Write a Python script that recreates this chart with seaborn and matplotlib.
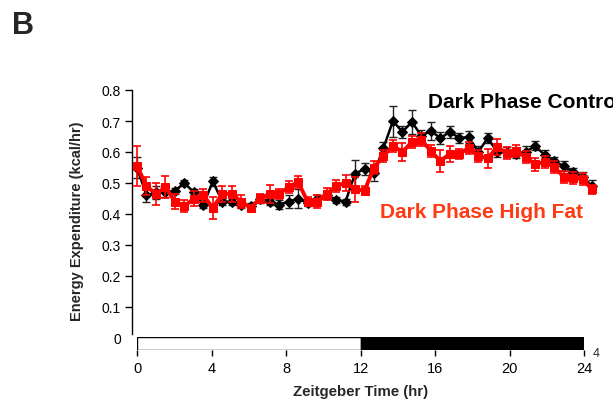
import matplotlib
matplotlib.use("Agg")
import matplotlib.pyplot as plt
import numpy as np
import pandas as pd
import seaborn as sns

# half-hour bins over one day
hours = np.arange(49) * 0.5

controlEE = [0.55, 0.46, 0.47, 0.47, 0.475, 0.50, 0.47, 0.43, 0.505, 0.44, 0.44, 0.43,
             0.425, 0.45, 0.44, 0.43, 0.44, 0.45, 0.435, 0.45, 0.46, 0.445, 0.44,
             0.53, 0.545, 0.532, 0.613, 0.70, 0.665, 0.697, 0.652, 0.668, 0.645, 0.665,
             0.645, 0.648, 0.60, 0.645, 0.60, 0.60, 0.595, 0.60, 0.62, 0.59, 0.57,
             0.555, 0.535, 0.52, 0.49]
controlSem = [0.035, 0.02, 0.02, 0.015, 0.01, 0.01, 0.01, 0.01, 0.015, 0.01, 0.01, 0.01,
              0.01, 0.015, 0.01, 0.015, 0.02, 0.03, 0.01, 0.01, 0.01, 0.01, 0.01,
              0.045, 0.02, 0.025, 0.02, 0.05, 0.02, 0.04, 0.02, 0.03, 0.02, 0.02,
              0.015, 0.02, 0.02, 0.015, 0.015, 0.015, 0.015, 0.02, 0.015, 0.015, 0.015,
              0.015, 0.015, 0.015, 0.02]

highFatEE = [0.555, 0.49, 0.465, 0.487, 0.44, 0.425, 0.45, 0.46, 0.42, 0.465, 0.465, 0.44,
             0.42, 0.45, 0.465, 0.465, 0.487, 0.503, 0.44, 0.44, 0.465, 0.49, 0.50,
             0.48, 0.475, 0.55, 0.587, 0.62, 0.60, 0.632, 0.64, 0.603, 0.571, 0.594,
             0.594, 0.613, 0.587, 0.58, 0.616, 0.597, 0.603, 0.584, 0.56, 0.568, 0.552,
             0.52, 0.516, 0.513, 0.48]
highFatSem = [0.065, 0.03, 0.035, 0.035, 0.025, 0.02, 0.025, 0.02, 0.035, 0.025, 0.025, 0.02,
              0.01, 0.015, 0.03, 0.015, 0.02, 0.02, 0.015, 0.02, 0.02, 0.02, 0.025,
              0.04, 0.015, 0.02, 0.02, 0.02, 0.03, 0.02, 0.02, 0.02, 0.035, 0.025,
              0.015, 0.02, 0.02, 0.03, 0.025, 0.02, 0.02, 0.02, 0.02, 0.02, 0.02,
              0.02, 0.02, 0.02, 0.015]

yTicks = [0, 0.1, 0.2, 0.3, 0.4, 0.5, 0.6, 0.7, 0.8]
yTickLabels = ["0", "0.1", "0.2", "0.3", "0.4", "0.5", "0.6", "0.7", "0.8"]
xTicks = [0, 4, 8, 12, 16, 20, 24]
lightDark = [(0, 12, "white"), (12, 12, "black")]

darkRed = "#ff3a12"

sns.set_style("ticks")
plt.rcParams["font.family"] = ["Liberation Sans", "DejaVu Sans"]

W, H = 613, 402
fig = plt.figure(figsize=(W / 100, H / 100), dpi=100)

# main data axes (pixel geometry)
pxPerHr = (592 - 137) / 24
x0 = 132
xMin = -(137 - x0) / pxPerHr
xMax = 24.5
ax = fig.add_axes([x0 / W, 1 - 339 / H, (xMax - xMin) * pxPerHr / W, (339 - 91) / H])

df = pd.DataFrame({"hour": hours, "control": controlEE, "highfat": highFatEE})

ax.errorbar(hours, controlEE, yerr=controlSem, fmt="none", ecolor="#222222",
            elinewidth=1, capsize=3, capthick=1, zorder=2)
sns.lineplot(data=df, x="hour", y="control", ax=ax, color="black", lw=1.8,
             marker="D", markersize=5, markeredgecolor="black", zorder=3)
ax.errorbar(hours, highFatEE, yerr=highFatSem, fmt="none", ecolor="red",
            elinewidth=1.2, capsize=3, capthick=1.2, zorder=4)
sns.lineplot(data=df, x="hour", y="highfat", ax=ax, color="red", lw=2.8,
             marker="s", markersize=6, markeredgecolor="red", zorder=5)

ax.set_xlim(xMin, xMax)
ax.set_ylim(0, 0.8)
ax.set_yticks(yTicks)
ax.set_yticklabels(yTickLabels, fontsize=10)
ax.yaxis.get_major_ticks()[0].tick1line.set_visible(False)
ax.tick_params(axis="y", direction="out", length=5, width=1, pad=3, colors="black")
ax.set_xticks([])
ax.set_xlabel("")
ax.set_ylabel("Energy Expenditure (kcal/hr)", fontsize=10.5, fontweight="bold")
ax.yaxis.set_label_coords(-0.102, 0.475)
for s in ["top", "right", "bottom"]:
    ax.spines[s].set_visible(False)
ax.spines["left"].set_bounds(0.013, 0.8)
ax.spines["left"].set_color("black")
ax.spines["left"].set_linewidth(1)
ax.patch.set_alpha(0)

ax.text(428 / W, 1 - 103 / H, "Dark Phase Control", transform=fig.transFigure,
        fontsize=15, fontweight="bold", color="black", va="center", ha="left")
ax.text(380 / W, 1 - 212 / H, "Dark Phase High Fat", transform=fig.transFigure,
        fontsize=15, fontweight="bold", color=darkRed, va="center", ha="left")

# light/dark bar along the bottom
bar = fig.add_axes([137 / W, 1 - 351 / H, (584 - 137) / W, 13 / H], zorder=6)
for start, width, c in lightDark:
    bar.barh(0.5, width, left=start, height=1, color=c, edgecolor="black", lw=1)
bar.set_xlim(0, 24)
bar.set_ylim(0, 1)
bar.set_yticks([])
bar.set_xticks(xTicks)
bar.set_xticklabels([str(t) for t in xTicks], fontsize=10.5)
bar.tick_params(axis="x", direction="out", length=4, width=1, pad=4, colors="black")
for s in bar.spines.values():
    s.set_visible(False)

fig.text(360.5 / W, 1 - 392 / H, "Zeitgeber Time (hr)", fontsize=10.8,
         fontweight="bold", ha="center", va="center")
fig.text(596 / W, 1 - 354 / H, "4", fontsize=9, ha="center", va="center")
fig.text(12 / W, 1 - 26 / H, "B", fontsize=22, fontweight="bold", ha="left", va="center")

fig.savefig("out.png", dpi=100)
